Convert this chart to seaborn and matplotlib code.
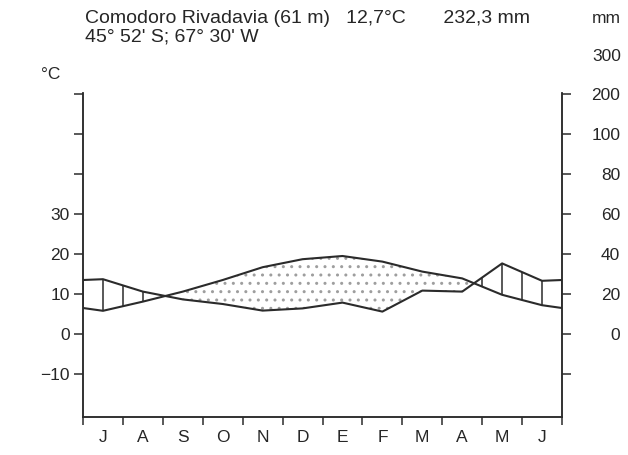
import numpy as np
import pandas as pd
import matplotlib
matplotlib.use("Agg")
import matplotlib.pyplot as plt
import seaborn as sns

# Comodoro Rivadavia, meses de julio a junio
meses = ["J", "A", "S", "O", "N", "D", "E", "F", "M", "A", "M", "J"]
temperatura = [5.8, 8.1, 10.6, 13.5, 16.7, 18.7, 19.5, 18.1, 15.6, 13.9, 9.8, 7.2]
precipitacion = [27.4, 21.2, 17.3, 15.0, 11.7, 12.8, 15.7, 11.2, 21.7, 21.2, 35.3, 26.6]

temp_ticks = [-10, 0, 10, 20, 30, 40, 50, 60]
temp_labels = ["\u221210", "0", "10", "20", "30", "", "", ""]
prec_labels = ["", "0", "20", "40", "60", "80", "100", "200"]

titulo_1 = "Comodoro Rivadavia (61 m)   12,7°C       232,3 mm"
titulo_2 = "45° 52' S; 67° 30' W"

sns.set_style("ticks")
plt.rcParams["font.family"] = ["Liberation Sans", "DejaVu Sans"]
plt.rcParams["hatch.linewidth"] = 1.0
ink = "#2b2b2b"
fs = 12.5

# serie ciclica: junio antes de julio y julio despues de junio
n = len(meses)
x = np.arange(-1, n + 1)
t = np.array([temperatura[-1]] + temperatura + [temperatura[0]])
p = np.array([precipitacion[-1]] + precipitacion + [precipitacion[0]]) / 2.0
df = pd.DataFrame({"x": x, "t": t, "p": p})

fig = plt.figure(figsize=(6.28, 4.55), dpi=100)
ax = fig.add_axes([0.1322, 0.0835, 0.7627, 0.7121])

sns.lineplot(data=df, x="x", y="t", ax=ax, color=ink, lw=1.5, sort=False)
sns.lineplot(data=df, x="x", y="p", ax=ax, color=ink, lw=1.5, sort=False)

# periodo seco: puntos
ax.fill_between(x, p, t, where=t > p, interpolate=True, facecolor="none",
                edgecolor="0.62", linewidth=0, hatch="..")

# periodo humedo: rayas verticales cada medio mes
xs = np.arange(-0.5, n - 0.5 + 0.01, 0.5)
ts = np.interp(xs, x, t)
ps = np.interp(xs, x, p)
mask = ps > ts + 0.3
ax.vlines(xs[mask], ts[mask], ps[mask], color=ink, lw=1.1)

ax.set_xlim(-0.5, n - 0.5)
ax.set_ylim(-20.75, 60.25)
ax.set_xlabel("")
ax.set_ylabel("")

ax.set_xticks(np.arange(-0.5, n, 1.0))
ax.set_xticklabels([])
ax.set_xticks(np.arange(n), minor=True)
ax.set_xticklabels(meses, minor=True, fontsize=fs)
ax.tick_params(axis="x", which="minor", length=0, pad=9)
ax.tick_params(axis="x", which="major", length=6, width=1.1, color=ink)

ax.set_yticks(temp_ticks)
ax.set_yticklabels(temp_labels, fontsize=fs)
ax.tick_params(axis="y", length=6.5, width=1.1, color=ink, pad=3)

ax2 = ax.twinx()
ax2.set_ylim(ax.get_ylim())
ax2.set_yticks(temp_ticks)
ax2.set_yticklabels(prec_labels, fontsize=fs)
ax2.tick_params(axis="y", length=6.5, width=1.1, color=ink, pad=35.5)
for lab in ax2.get_yticklabels():
    lab.set_horizontalalignment("right")

for a in (ax, ax2):
    a.spines["top"].set_visible(False)
    for s in ("left", "right", "bottom"):
        a.spines[s].set_linewidth(1.1)
        a.spines[s].set_color(ink)

ax2.text(1.123, 69.4, "300", transform=ax2.get_yaxis_transform(), ha="right",
         va="center", fontsize=fs, clip_on=False)
ax2.text(1.123, 79.0, "mm", transform=ax2.get_yaxis_transform(), ha="right",
         va="center", fontsize=fs, clip_on=False)
ax.text(-0.087, 1.056, "°C", transform=ax.transAxes, ha="left", va="center", fontsize=fs)

fig.text(0.136, 0.9488, titulo_1, ha="left", va="baseline", fontsize=14)
fig.text(0.136, 0.9084, titulo_2, ha="left", va="baseline", fontsize=14)

fig.savefig("out.png", dpi=100)
